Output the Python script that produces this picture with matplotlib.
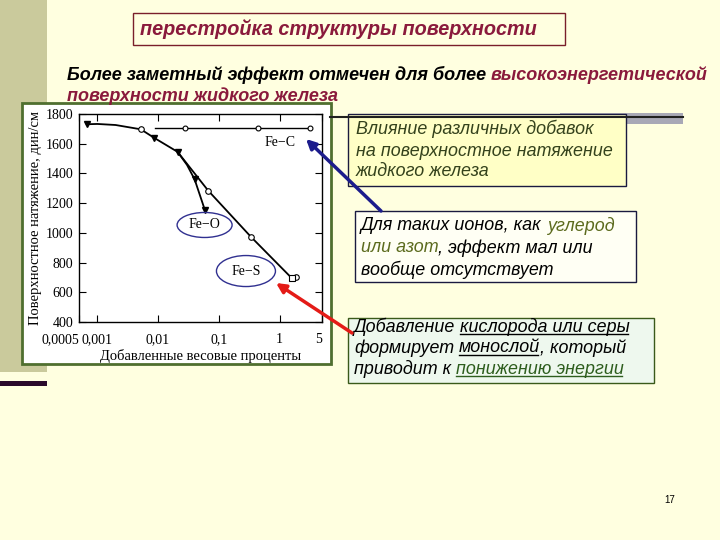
import numpy as np
import matplotlib
matplotlib.use('Agg')
from matplotlib import pyplot as plt
from matplotlib.patches import Rectangle, Ellipse
from matplotlib.ticker import FixedLocator, NullLocator

# data (weight %, surface tension dyn/cm)
fe_c_x = [0.009, 0.028, 0.45, 3.2]
fe_c_y = [1706, 1706, 1706, 1706]

fe_s_x = [0.00067, 0.001, 0.002, 0.0052, 0.0086, 0.021, 0.035, 0.067, 0.337, 1.6, 1.9]
fe_s_y = [1731, 1733, 1726, 1697, 1640, 1545, 1430, 1284, 974, 694, 700]

fe_o_x = [0.021, 0.03, 0.04, 0.059]
fe_o_y = [1545, 1457, 1360, 1154]

filled_x = [0.00067, 0.0086, 0.021, 0.04]
filled_y = [1731, 1640, 1545, 1360]
open_x = [0.0052, 0.067, 0.337, 1.9]
open_y = [1697, 1284, 974, 700]

x_ticks = [0.0005, 0.001, 0.01, 0.1, 1, 5]
x_labels = ['0,0005', '0,001', '0,01', '0,1', '1', '5']
y_ticks = [400, 600, 800, 1000, 1200, 1400, 1600, 1800]

BG = '#FFFFE0'
MAROON = '#8A1A3C'
W, H = 720, 540

fig = plt.figure(figsize=(7.2, 5.4), dpi=100, facecolor=BG)
bg = fig.add_axes([0, 0, 1, 1])
bg.set_xlim(0, W)
bg.set_ylim(H, 0)
bg.axis('off')
bg.set_facecolor(BG)
r = fig.canvas.get_renderer()

# slide decorations
bg.add_patch(Rectangle((0, 0), 47, 372, color='#CACA9C', lw=0))
bg.add_patch(Rectangle((0, 381), 47, 5, color='#2B0A2B', lw=0))
bg.add_patch(Rectangle((560, 113), 123, 11, color='#A8A8B6', lw=0))
bg.plot([330, 683], [117, 117], color='#202020', lw=1.5)


def ink_width(s, **kw):
    t = bg.text(0, 0, s, **kw)
    w = t.get_window_extent(renderer=r).width
    t.remove()
    return w


def seg_line(x, y, parts, **kw):
    # parts: (text, colour, underline); each part is right-aligned where
    # it ends inside the whole line, so spacing follows the font
    cum = ''
    for s, c, u in parts:
        cum += s
        end = x + ink_width(cum.rstrip(' '), **kw)
        core = s.strip(' ')
        bg.text(end, y, core, color=c, va='center', ha='right', **kw)
        if u:
            w = ink_width(core, **kw)
            bg.plot([end - w, end - 2], [y + 7, y + 7], color=c, lw=1)


# title box
bg.add_patch(Rectangle((133, 13), 432, 32, fc=BG, ec='#7A1F2B', lw=1))
hdr = dict(family='Liberation Sans', fontweight='bold', style='italic')
bg.text(140, 29, 'перестройка структуры поверхности', color=MAROON,
        fontsize=14.3, va='center', **hdr)
seg_line(67, 75, [('Более заметный эффект отмечен для более ', 'black', False),
                  ('высокоэнергетической', MAROON, False)], fontsize=13, **hdr)
seg_line(67, 96, [('поверхности жидкого железа', MAROON, False)], fontsize=13, **hdr)

# text boxes
body = dict(family='Liberation Sans', style='italic', fontsize=12.9)
bg.add_patch(Rectangle((348, 114), 278, 72, fc='#FFFFC6', ec='#1A1A40', lw=1))
for yy, s in zip([129, 151, 172], ['Влияние различных добавок',
                                   'на поверхностное натяжение',
                                   'жидкого железа']):
    seg_line(356, yy, [(s, '#34421C', False)], **body)

bg.add_patch(Rectangle((355, 211), 281, 71, fc='#FFFFF4', ec='#1A1A40', lw=1))
seg_line(361, 226, [('Для таких ионов, как ', 'black', False), ('углерод', '#5C6B1E', False)], **body)
seg_line(361, 248, [('или азот', '#5C6B1E', False), (', эффект мал или', 'black', False)], **body)
seg_line(361, 270, [('вообще отсутствует', 'black', False)], **body)

bg.add_patch(Rectangle((348, 318), 306, 65, fc='#EEF8EE', ec='#3A5A1A', lw=1))
seg_line(354, 327, [('Добавление ', 'black', False), ('кислорода или серы', 'black', True)], **body)
seg_line(354, 348, [('формирует ', 'black', False), ('монослой', 'black', True),
                    (', который', 'black', False)], **body)
seg_line(354, 369, [('приводит к ', 'black', False), ('понижению энергии', '#2E5E1E', True)], **body)

bg.text(670, 500, '17', fontsize=7, family='Liberation Sans', va='center', ha='center')

# chart picture
bg.add_patch(Rectangle((22, 103), 309, 261, fc='white', ec='#4F6F2F', lw=2))

x0, x1, y0, y1 = 79, 322, 114, 322
ax = fig.add_axes([x0 / W, 1 - y1 / H, (x1 - x0) / W, (y1 - y0) / H])
ax.set_facecolor('white')
ax.set_xscale('log')
ax.set_xlim(0.0005, 5)
ax.set_ylim(400, 1800)

ax.plot(fe_c_x, fe_c_y, color='black', lw=1)
ax.plot(fe_c_x[1:], fe_c_y[1:], 'o', ms=3.5, mfc='white', mec='black', mew=0.8)
ax.plot(fe_s_x, fe_s_y, color='black', lw=1.3)
ax.plot(fe_o_x, fe_o_y, color='black', lw=1.3)
ax.plot(filled_x, filled_y, 'v', ms=4, color='black')
ax.plot(fe_o_x[-1:], fe_o_y[-1:], 'v', ms=5, color='black')
ax.plot(open_x, open_y, 'o', ms=4, mfc='white', mec='black', mew=0.8)
ax.plot([1.6], [694], 's', ms=4, mfc='white', mec='black', mew=0.8)

ax.xaxis.set_major_locator(FixedLocator(x_ticks))
ax.xaxis.set_minor_locator(NullLocator())
ax.set_xticklabels(x_labels)
ax.set_yticks(y_ticks)
ax.tick_params(direction='in', length=5, width=0.8, top=True, right=True,
               labelsize=10, pad=4)
ax.tick_params(axis='x', pad=8)
for lab in ax.get_xticklabels() + ax.get_yticklabels():
    lab.set_family('Liberation Serif')
xl = ax.get_xticklabels()
xl[0].set_horizontalalignment('right')
xl[-1].set_horizontalalignment('right')
for s in ax.spines.values():
    s.set_linewidth(1)
ax.set_xlabel('Добавленные весовые проценты', family='Liberation Serif',
              fontsize=10.5, labelpad=2)
ax.set_ylabel('Поверхностное натяжение, дин/см', family='Liberation Serif',
              fontsize=10.5, labelpad=3)

ax.text(1.03, 1605, 'Fe\u2212C', family='Liberation Serif', fontsize=10,
        ha='center', va='center')

# overlay for ellipses and arrows, on top of the chart
top = fig.add_axes([0, 0, 1, 1])
top.set_xlim(0, W)
top.set_ylim(H, 0)
top.axis('off')
top.patch.set_alpha(0)


def to_px(x, y):
    px, py = ax.transData.transform((x, y))
    return px, H - py


for (ex, ey, w, h, lab) in [(0.0584, 1053, 55, 25, 'Fe\u2212O'),
                             (0.28, 743, 59, 31, 'Fe\u2212S')]:
    cx, cy = to_px(ex, ey)
    top.add_patch(Ellipse((cx, cy), w, h, fc='none', ec='#303090', lw=1))
    top.text(cx, cy, lab, family='Liberation Serif', fontsize=10,
             ha='center', va='center')

# arrows from the boxes to the curves
top.annotate('', xy=(306, 139), xytext=(381, 211),
             arrowprops=dict(arrowstyle='-|>', color='#1C1C8C', lw=2.5,
                             mutation_scale=14, shrinkA=0, shrinkB=0))
top.annotate('', xy=(276, 283), xytext=(352, 333),
             arrowprops=dict(arrowstyle='-|>', color='#E41B17', lw=2.5,
                             mutation_scale=14, shrinkA=0, shrinkB=0))

fig.savefig('out.png', dpi=100, facecolor=BG)
